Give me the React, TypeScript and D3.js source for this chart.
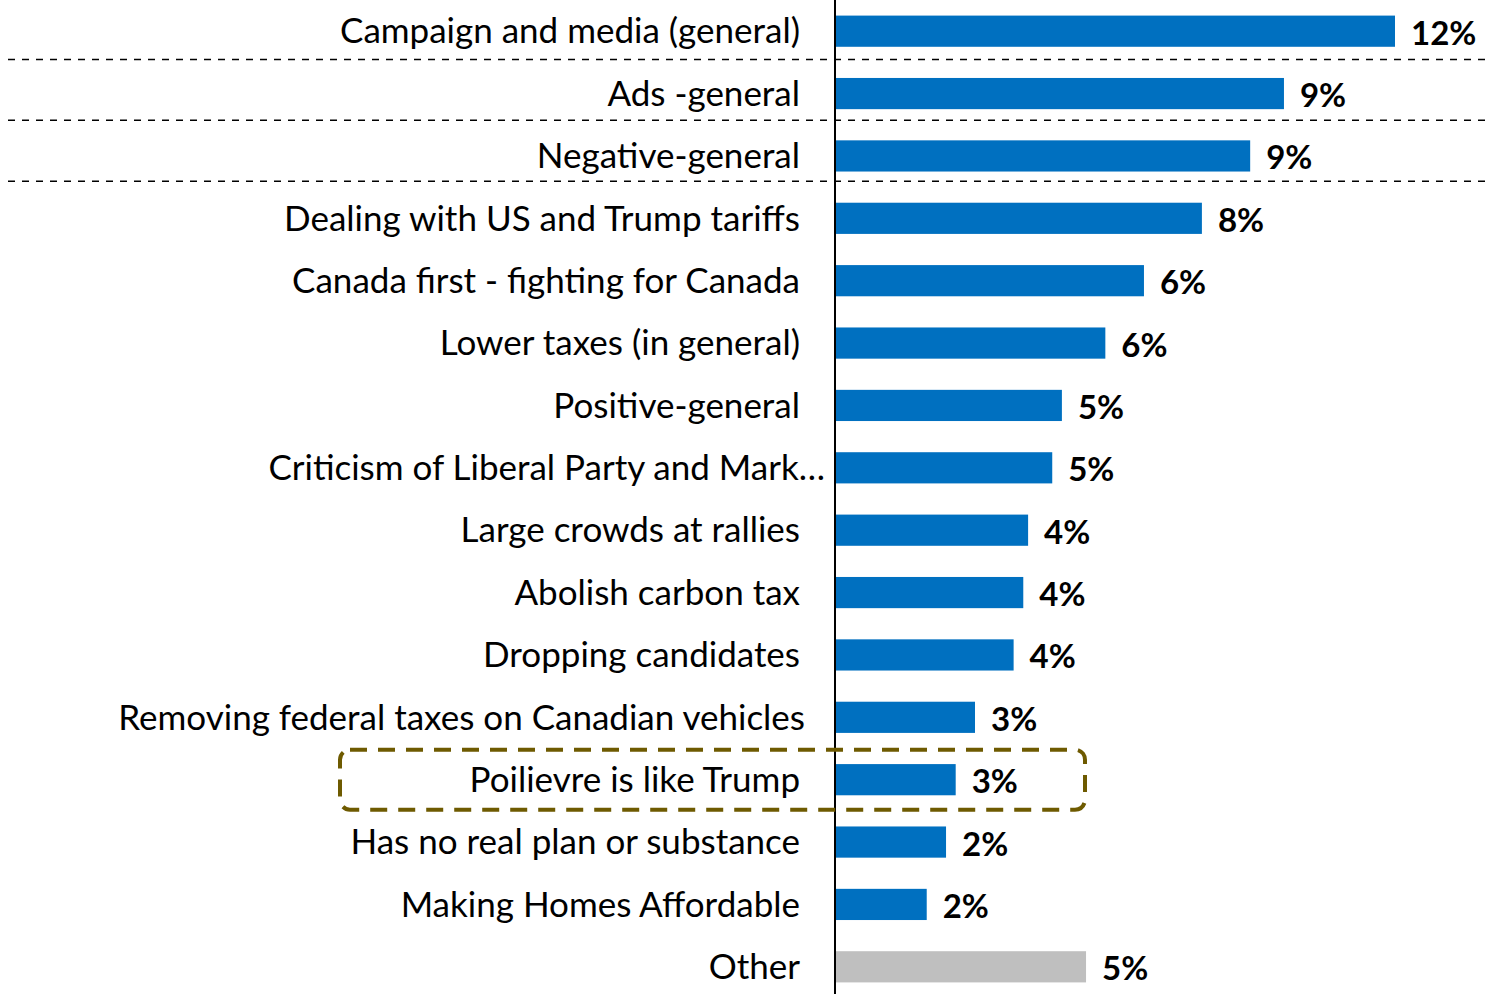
import React from "react";
import * as d3 from "d3";

const categories = [
  "Campaign and media (general)",
  "Ads -general",
  "Negative-general",
  "Dealing with US and Trump tariffs",
  "Canada first - fighting for Canada",
  "Lower taxes (in general)",
  "Positive-general",
  "Criticism of Liberal Party and Mark…",
  "Large crowds at rallies",
  "Abolish carbon tax",
  "Dropping candidates",
  "Removing federal taxes on Canadian vehicles",
  "Poilievre is like Trump",
  "Has no real plan or substance",
  "Making Homes Affordable",
  "Other",
];
const values = [11.6, 9.3, 8.6, 7.6, 6.4, 5.6, 4.7, 4.5, 4.0, 3.9, 3.7, 2.9, 2.5, 2.3, 1.9, 5.2];
const valueLabels = ["12%", "9%", "9%", "8%", "6%", "6%", "5%", "5%", "4%", "4%", "4%", "3%", "3%", "2%", "2%", "5%"];
const separatorsAfter = [0, 1, 2];
const highlighted = "Poilievre is like Trump";

const W = 1486;
const H = 994;
const AXIS_X = 835;

export default function App() {
  const x = d3.scaleLinear().domain([0, 11.6]).range([AXIS_X, 1395]);
  const y = d3
    .scaleBand<string>()
    .domain(categories)
    .range([0, 998])
    .paddingInner(0.5)
    .paddingOuter(0.25);
  const bw = y.bandwidth();
  const step = y.step();
  const labelEnd = (c: string) =>
    c.startsWith("Criticism") ? 825 : c.startsWith("Removing") ? 805 : 800;
  const hy = (y(highlighted) as number) + bw / 2;

  return (
    <svg
      width={W}
      height={H}
      style={{ position: "absolute", left: 0, top: 0, background: "#fff" }}
      fontFamily="Lato, 'Open Sans', sans-serif"
    >
      {separatorsAfter.map((i) => {
        const yy = (y(categories[i]) as number) + bw + (step - bw) / 2 - 3 - i * 1.5;
        return (
          <line
            key={"s" + i}
            x1={8}
            x2={W}
            y1={yy}
            y2={yy}
            stroke="#000"
            strokeWidth={1.5}
            strokeDasharray="7,7"
          />
        );
      })}
      {categories.map((c, i) => {
        const yy = y(c) as number;
        return (
          <g key={c}>
            <rect
              x={AXIS_X}
              y={yy}
              width={x(values[i]) - AXIS_X}
              height={bw}
              fill={c === "Other" ? "#BFBFBF" : "#0070C0"}
            />
            <text
              x={labelEnd(c)}
              y={yy + bw / 2}
              dy="0.35em"
              textAnchor="end"
              fontSize={35}
              fill="#000"
            >
              {c}
            </text>
            <text
              x={x(values[i]) + 16}
              y={yy + bw / 2 + 2}
              dy="0.35em"
              fontSize={33}
              fontWeight="bold"
              fill="#000"
            >
              {valueLabels[i]}
            </text>
          </g>
        );
      })}
      <line x1={AXIS_X} x2={AXIS_X} y1={0} y2={H} stroke="#000" strokeWidth={2} />
      <rect
        x={340}
        y={hy - 30}
        width={745}
        height={60}
        rx={10}
        ry={10}
        fill="none"
        stroke="#6E5A00"
        strokeWidth={4}
        strokeDasharray="17,11"
      />
    </svg>
  );
}
